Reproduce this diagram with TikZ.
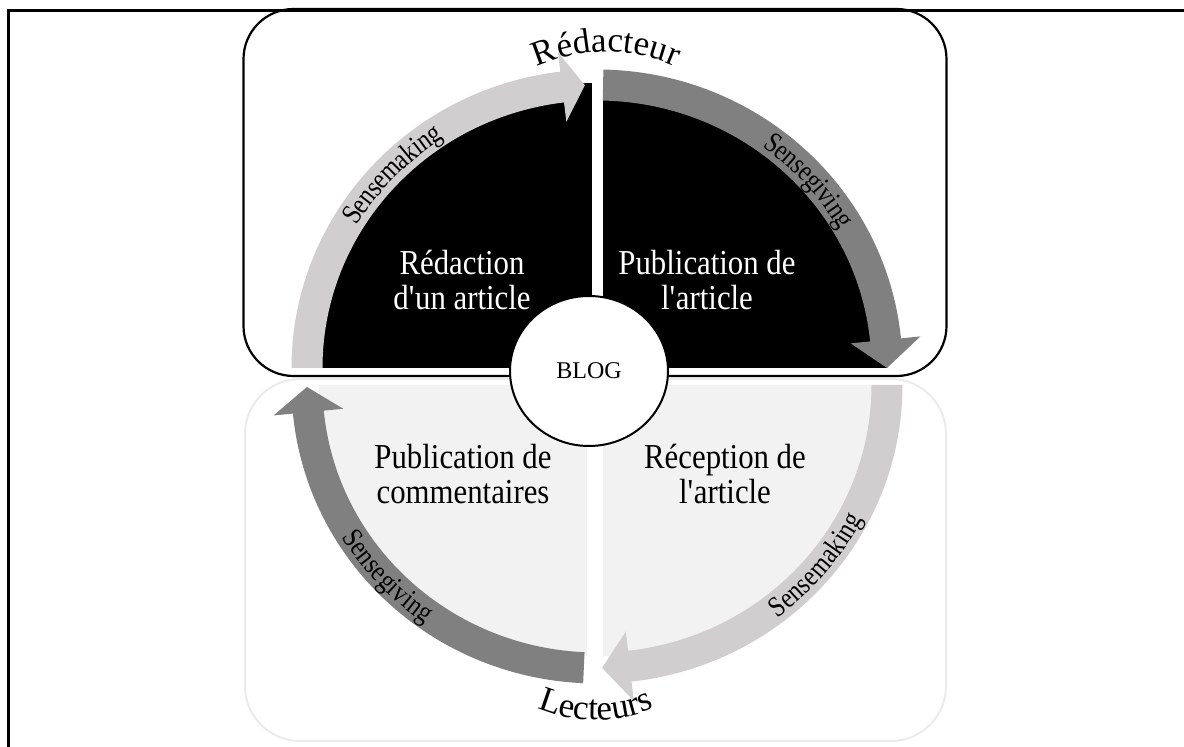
\documentclass[tikz,border=0pt]{standalone}
\usepackage{fontspec}
\setmainfont{Liberation Serif}
\newfontfamily\condserif[FakeStretch=0.83]{Liberation Serif}
\newfontfamily\quadserif[FakeStretch=0.88]{Liberation Serif}
\usetikzlibrary{calc,decorations.text,shapes.geometric}
\definecolor{lightarrow}{HTML}{D0CECE}
\definecolor{darkarrow}{HTML}{808080}
\definecolor{lowfill}{HTML}{F2F2F2}
\definecolor{lowframe}{HTML}{EBEBEB}
% #1 centre, #2 start angle, #3 base angle of head, #4 tip angle, #5 colour
\newcommand{\bandarrow}[5]{%
  \fill[#5] ($(#1)+(#2:305.5pt and 298.5pt)$)
    arc[start angle=#2, end angle=#3, x radius=305.5pt, y radius=298.5pt]
    -- ($(#1)+(#3:325pt and 318pt)$)
    -- ($(#1)+(#4:290pt and 283pt)$)
    -- ($(#1)+(#3:255pt and 248pt)$)
    -- ($(#1)+(#3:274.5pt and 267.5pt)$)
    arc[start angle=#3, end angle=#2, x radius=274.5pt, y radius=267.5pt]
    -- cycle;}
\tikzset{
  quadlabel/.style={align=center, font=\quadserif\fontsize{35}{35}\selectfont, inner sep=0pt},
  arclabel/.style={decorate, decoration={text along path, text align=center, raise=-9pt,
      text={|\condserif\fontsize{29}{29}\selectfont|#1}}},
  rolelabel/.style={decorate, decoration={text along path, text align=center,
      text={|\fontsize{35}{35}\selectfont|#1}}},
}
\begin{document}
\begin{tikzpicture}[x=1pt,y=1pt]
\useasboundingbox (0,0) rectangle (1184,747);
% outer frame (only top and left visible)
\draw[line width=2.5pt] (8.3,-2) -- (8.3,736.5) -- (1186,736.5);
% group frames
\draw[lowframe, line width=2pt, rounded corners=55pt] (245,6) rectangle (946,368);
\draw[line width=2.2pt, rounded corners=50pt] (243.5,738) rectangle (946.5,371);
\coordinate (C1) at (597,379);
\coordinate (C2) at (597,362);
% upper half: black
\fill[black] ($(C1)+(0:290pt and 285pt)$) arc[start angle=0, end angle=180, x radius=290pt, y radius=285pt] -- cycle;
% lower half: light fill
\fill[lowfill] ($(C2)+(0:278pt and 271pt)$) arc[start angle=0, end angle=-180, x radius=278pt, y radius=271pt] -- cycle;
% white separators
\fill[white] (592,379) rectangle (603,700);
\fill[white] (587,362) rectangle (603,20);
% arrows
\bandarrow{C1}{180}{96.9}{92.4}{lightarrow}
\bandarrow{C1}{88.8}{5.7}{0}{darkarrow}
\bandarrow{C2}{0}{-83.5}{-89}{lightarrow}
\bandarrow{C2}{-92.6}{-174.5}{-179.6}{darkarrow}
% arrow labels
\path[arclabel=Sensemaking] ($(C1)+(165:290pt and 283pt)$) arc[start angle=165, end angle=107, x radius=290pt, y radius=283pt];
\path[arclabel=Sensegiving] ($(C1)+(71:290pt and 283pt)$) arc[start angle=71, end angle=13, x radius=290pt, y radius=283pt];
\path[arclabel=Sensemaking] ($(C2)+(-69:290pt and 283pt)$) arc[start angle=-69, end angle=-11, x radius=290pt, y radius=283pt];
\path[arclabel=Sensegiving] ($(C2)+(194:290pt and 283pt)$) arc[start angle=194, end angle=252, x radius=290pt, y radius=283pt];
% role labels
\path[rolelabel=Rédacteur] (606,525) ++(150:170pt) arc[start angle=150, end angle=30, radius=170pt];
\path[rolelabel=Lecteurs] (596,177) ++(210:150pt) arc[start angle=210, end angle=330, radius=150pt];
% quadrant labels
\node[quadlabel, text=white] (redaction) at (462,466.5) {Rédaction\\d\textquotesingle un article};
\node[quadlabel, text=white] (publication) at (707,466.5) {Publication de\\l\textquotesingle article};
\node[quadlabel] (commentaires) at (463,272.5) {Publication de\\commentaires};
\node[quadlabel] (reception) at (725,272.5) {Réception de\\l\textquotesingle article};
% centre
\node[ellipse, draw, line width=2pt, fill=white, minimum width=158pt, minimum height=150pt, inner sep=0pt,
      font=\fontsize{24}{24}\selectfont] (blog) at (589,376) {BLOG};
\end{tikzpicture}
\end{document}
